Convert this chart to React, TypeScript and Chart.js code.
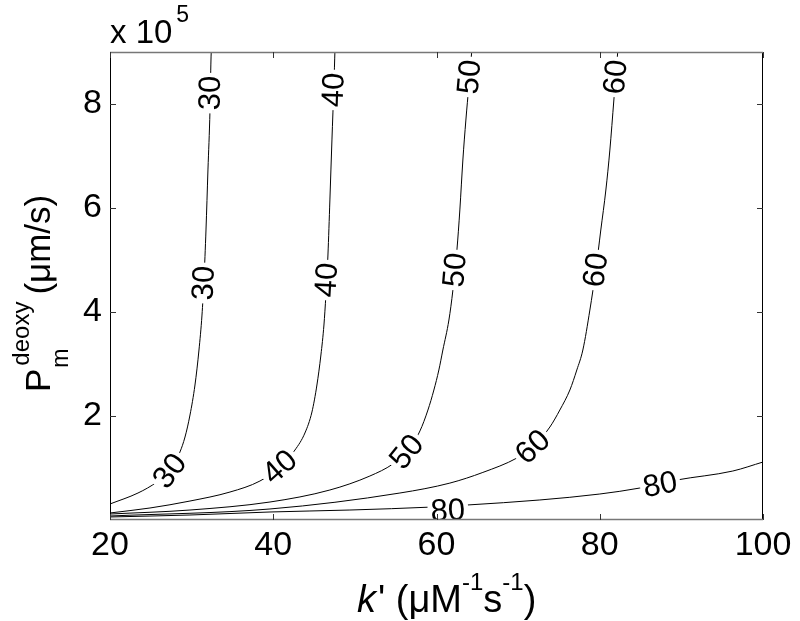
import React, { useEffect, useRef } from "react";
import { Chart, registerables } from "chart.js";

Chart.register(...registerables);

const FONT = '"Liberation Sans", Arial, Helvetica, sans-serif';

// Axis ticks
const xTicks = [20, 40, 60, 80, 100];
const yTicks = [200000, 400000, 600000, 800000];

// Contour levels
const levels = ["30", "40", "50", "60", "80"];

// Contour 30
const k30 = [20.0, 23.43, 25.76, 27.35, 28.57, 29.19, 29.8, 30.41, 30.9, 31.27, 31.51, 31.76, 32.0, 32.25, 32.37, 32.49];
const p30 = [30800, 51900, 73100, 94200, 130800, 159600, 201900, 259600, 326900, 394200, 461500, 557700, 673100, 788500, 884600, 923000];

// Contour 40
const k40 = [20.0, 24.9, 29.8, 34.7, 38.37, 40.82, 42.66, 43.88, 44.74, 45.35, 45.84, 46.21, 46.45, 46.7, 46.94, 47.19, 47.43, 47.56];
const p40 = [13500, 23100, 36500, 53800, 75000, 101900, 134600, 167300, 207700, 259600, 317300, 375000, 432700, 509600, 615400, 730800, 836500, 903800];

// Contour 50
const k50 = [20.0, 29.8, 39.6, 46.94, 51.84, 54.66, 56.37, 57.97, 58.95, 59.68, 60.29, 60.78, 61.52, 62.01, 62.5, 62.86, 63.23, 63.6, 63.97, 64.33];
const p50 = [11500, 19200, 34600, 57700, 84600, 107700, 130800, 171200, 211500, 250000, 288500, 326900, 384600, 442300, 519200, 596200, 692300, 769200, 836500, 903800];

// Contour 60
const k60 = [20.0, 39.6, 55.52, 61.64, 65.68, 69.85, 71.81, 73.89, 75.11, 76.34, 77.19, 77.93, 78.79, 79.52, 80.13, 80.75, 81.24, 81.73, 82.22];
const p60 = [7700, 21200, 51900, 71000, 91500, 119200, 140400, 178800, 211500, 250000, 288500, 326900, 403800, 480800, 557700, 634600, 711500, 807700, 903800];

// Contour 80
const k80 = [20.0, 29.8, 39.6, 49.39, 59.56, 63.72, 72.66, 80.01, 84.91, 89.44, 96.3, 100.0];
const p80 = [5800, 9600, 15400, 19200, 25000, 28800, 38500, 50000, 61500, 76900, 94200, 111500];

const curveK = [k30, k40, k50, k60, k80];
const curveP = [p30, p40, p50, p60, p80];

// Contour labels (curve index, k', P)
const labelCurve = [0, 0, 0, 1, 1, 1, 2, 2, 2, 3, 3, 3, 4, 4];
const labelK = [27.35, 31.49, 32.29, 40.82, 46.55, 47.4, 56.37, 62.25, 64.05, 71.81, 79.52, 81.95, 61.4, 87.4];
const labelP = [94200, 455800, 821000, 101900, 461500, 827000, 130800, 480800, 852000, 140400, 480800, 852000, 18000, 68000];

const decorPlugin = {
  id: "decor",
  afterDatasetsDraw(chart: any) {
    const { ctx, chartArea: a, scales } = chart;
    const xs = scales.x;
    const ys = scales.y;
    // contour labels
    ctx.save();
    ctx.beginPath();
    ctx.rect(a.left, a.top, a.right - a.left, a.bottom - a.top);
    ctx.clip();
    ctx.font = `31px ${FONT}`;
    ctx.textAlign = "center";
    ctx.textBaseline = "middle";
    for (let i = 0; i < labelK.length; i++) {
      const ci = labelCurve[i];
      const px = xs.getPixelForValue(labelK[i]);
      const py = ys.getPixelForValue(labelP[i]);
      const pts = chart.getDatasetMeta(ci).data;
      let best = 0;
      let bd = Infinity;
      for (let j = 0; j < pts.length; j++) {
        const d = (pts[j].x - px) ** 2 + (pts[j].y - py) ** 2;
        if (d < bd) {
          bd = d;
          best = j;
        }
      }
      const pa = pts[Math.max(best - 1, 0)];
      const pb = pts[Math.min(best + 1, pts.length - 1)];
      const ang = Math.atan2(pb.y - pa.y, pb.x - pa.x);
      const txt = levels[ci];
      const w = ctx.measureText(txt).width;
      ctx.save();
      ctx.translate(px, py);
      ctx.rotate(ang);
      ctx.fillStyle = "#fff";
      ctx.fillRect(-w / 2 - 3, -12, w + 6, 24);
      ctx.fillStyle = "#000";
      ctx.fillText(txt, 0, 1);
      ctx.restore();
    }
    ctx.restore();
  },
  afterDraw(chart: any) {
    const { ctx, chartArea: a, scales } = chart;
    const xs = scales.x;
    const ys = scales.y;
    ctx.save();
    // box
    ctx.strokeStyle = "#000";
    ctx.lineWidth = 1;
    ctx.beginPath();
    ctx.moveTo(a.left + 0.5, a.top);
    ctx.lineTo(a.left + 0.5, a.bottom);
    ctx.moveTo(a.right - 0.5, a.top);
    ctx.lineTo(a.right - 0.5, a.bottom);
    ctx.stroke();
    ctx.strokeStyle = "#777";
    ctx.lineWidth = 1.5;
    ctx.beginPath();
    ctx.moveTo(a.left, a.top + 0.5);
    ctx.lineTo(a.right, a.top + 0.5);
    ctx.moveTo(a.left, a.bottom - 0.5);
    ctx.lineTo(a.right, a.bottom - 0.5);
    ctx.stroke();
    // inward ticks
    ctx.strokeStyle = "#333";
    ctx.lineWidth = 1;
    ctx.beginPath();
    const tl = 6;
    for (const v of xTicks) {
      const x = Math.round(xs.getPixelForValue(v)) + 0.5;
      ctx.moveTo(x, a.bottom);
      ctx.lineTo(x, a.bottom - tl);
      ctx.moveTo(x, a.top);
      ctx.lineTo(x, a.top + tl);
    }
    for (const v of yTicks) {
      const y = Math.round(ys.getPixelForValue(v)) + 0.5;
      ctx.moveTo(a.left, y);
      ctx.lineTo(a.left + tl, y);
      ctx.moveTo(a.right, y);
      ctx.lineTo(a.right - tl, y);
    }
    ctx.stroke();

    ctx.fillStyle = "#000";
    ctx.textBaseline = "alphabetic";
    ctx.textAlign = "left";
    // exponent "x 10^5"
    ctx.font = `33px ${FONT}`;
    ctx.fillText("x 10", a.left, 43);
    const w10 = ctx.measureText("x 10").width;
    ctx.font = `23px ${FONT}`;
    ctx.fillText("5", a.left + w10 + 4, 22);

    // x axis title: k' (μM^-1 s^-1)
    let x = 357;
    const base = 612;
    ctx.font = `italic 38px ${FONT}`;
    ctx.fillText("k", x, base);
    x += ctx.measureText("k").width + 2;
    ctx.font = `38px ${FONT}`;
    ctx.fillText("'", x, base);
    x += ctx.measureText("' ").width;
    ctx.fillText("(\u03bcM", x, base);
    x += ctx.measureText("(\u03bcM").width;
    ctx.font = `24px ${FONT}`;
    ctx.fillText("-1", x, base - 22);
    x += ctx.measureText("-1").width;
    ctx.font = `38px ${FONT}`;
    ctx.fillText("s", x, base);
    x += ctx.measureText("s").width;
    ctx.font = `24px ${FONT}`;
    ctx.fillText("-1", x, base - 22);
    x += ctx.measureText("-1").width;
    ctx.font = `38px ${FONT}`;
    ctx.fillText(")", x, base);

    // y axis title: P_m^deoxy (μm/s)
    ctx.save();
    ctx.translate(50, a.bottom - 128);
    ctx.rotate(-Math.PI / 2);
    let u = 0;
    ctx.font = `35px ${FONT}`;
    ctx.fillText("P", u, 0);
    u += ctx.measureText("P").width + 1;
    ctx.font = `23px ${FONT}`;
    ctx.fillText("m", u, 18);
    const wm = ctx.measureText("m").width;
    ctx.font = `24px ${FONT}`;
    ctx.fillText("deoxy", u + 2, -21);
    const wd = ctx.measureText("deoxy").width;
    u += Math.max(wm, wd + 2) + 7;
    ctx.font = `35px ${FONT}`;
    ctx.fillText("(\u03bcm/s)", u, 0);
    ctx.restore();

    ctx.restore();
  },
};

export default function App() {
  const ref = useRef<HTMLCanvasElement | null>(null);
  useEffect(() => {
    if (!ref.current) return;
    const datasets = curveK.map((ks, i) => ({
      label: levels[i],
      data: ks.map((k, j) => ({ x: k, y: curveP[i][j] })),
      showLine: true,
      borderColor: "#000",
      borderWidth: 1,
      pointRadius: 0,
      fill: false,
      cubicInterpolationMode: "monotone" as const,
    }));
    const chart = new Chart(ref.current, {
      type: "scatter",
      data: { datasets },
      options: {
        animation: false,
        responsive: false,
        maintainAspectRatio: false,
        layout: { padding: { top: 52, right: 37, left: 0, bottom: 0 } },
        plugins: { legend: { display: false }, tooltip: { enabled: false } },
        scales: {
          x: {
            type: "linear",
            min: 20,
            max: 100,
            afterBuildTicks: (s: any) => {
              s.ticks = xTicks.map((v) => ({ value: v }));
            },
            afterFit: (s: any) => {
              s.height = 101;
            },
            grid: { display: false, drawTicks: false },
            border: { display: false },
            ticks: {
              color: "#000",
              font: { family: FONT, size: 34 },
              padding: 5,
              maxRotation: 0,
              callback: (v: any) => String(v),
            },
          },
          y: {
            type: "linear",
            min: 0,
            max: 900000,
            afterBuildTicks: (s: any) => {
              s.ticks = yTicks.map((v) => ({ value: v }));
            },
            afterFit: (s: any) => {
              s.width = 110;
            },
            grid: { display: false, drawTicks: false },
            border: { display: false },
            ticks: {
              color: "#000",
              font: { family: FONT, size: 34 },
              padding: 8,
              callback: (v: any) => String(Math.round(Number(v) / 100000)),
            },
          },
        },
      },
      plugins: [decorPlugin],
    });
    return () => chart.destroy();
  }, []);
  return (
    <div style={{ position: "absolute", left: 0, top: 0, width: 800, height: 621, background: "#fff" }}>
      <canvas ref={ref} width={800} height={621} style={{ display: "block" }} />
    </div>
  );
}
